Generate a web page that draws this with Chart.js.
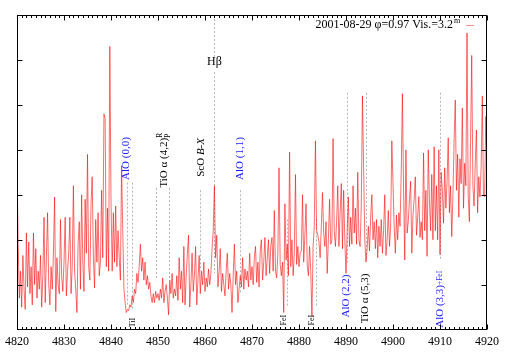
<!DOCTYPE html>
<html>
<head>
<meta charset="utf-8">
<script src="https://cdn.jsdelivr.net/npm/chart.js@4.4.0/dist/chart.umd.min.js"></script>
<style>
  html, body { margin: 0; padding: 0; background: #fff; }
  canvas { display: block; }
</style>
</head>
<body>
<canvas id="myChart" width="509" height="356"></canvas>
<script>
// spectrum sampled every 0.25 A from 4820 to 4920
const lambdaStart = 4820;
const lambdaStep = 0.25;
const flux = [
  3.6, 1.9, 0.7, 1.3, 0.5, 1.65, 0.9, 0.45, 2.15, 0.95, 1.95, 0.8, 1.4, 0.55, 2.15, 1.0, 1.8, 0.7, 1.3, 0.9,
  1.65, 0.5, 1.2, 2.5, 0.6, 1.6, 2.6, 1.0, 0.55, 1.4, 0.9, 1.7, 2.95, 0.4, 1.6, 1.0, 0.8, 2.45, 1.2, 0.85,
  1.5, 2.5, 0.75, 1.3, 1.7, 2.5, 0.8, 1.4, 3.2, 1.3, 0.9, 0.38, 1.9, 2.4, 0.9, 3.0, 1.5, 0.85, 2.9, 1.7,
  3.9, 1.4, 1.1, 2.8, 3.4, 1.6, 0.93, 2.45, 1.5, 2.6, 1.2, 1.5, 3.1, 1.6, 4.8, 4.7, 1.4, 2.7, 1.3, 6.3,
  2.9, 1.3, 2.6, 1.5, 2.75, 1.4, 2.2, 1.6, 1.1, 3.65, 2.2, 0.9, 0.6, 0.38, 0.45, 0.42, 0.55, 0.5, 0.75, 0.6,
  0.9, 0.8, 1.25, 1.05, 1.4, 1.9, 1.3, 1.6, 1.1, 1.5, 1.0, 1.2, 0.9, 1.05, 0.75, 0.6, 0.8, 0.6, 0.85, 0.7,
  0.8, 0.65, 0.9, 0.7, 1.15, 0.6, 0.85, 1.0, 0.7, 0.33, 1.1, 0.8, 1.25, 0.7, 0.9, 0.75, 1.2, 0.65, 1.6, 0.9,
  1.3, 0.6, 1.85, 0.55, 1.2, 1.7, 2.1, 0.5, 1.0, 1.7, 0.85, 1.2, 1.85, 0.55, 1.1, 1.65, 0.8, 1.3, 1.0, 1.5,
  0.85, 1.15, 0.95, 1.35, 1.0, 1.25, 1.8, 2.2, 3.2, 1.6, 2.1, 0.95, 1.3, 1.8, 0.85, 1.25, 1.0, 0.75, 1.3, 1.7,
  0.9, 1.25, 1.0, 0.38, 1.2, 1.9, 1.0, 1.3, 0.6, 0.9, 1.2, 0.95, 1.6, 0.9, 1.35, 1.1, 1.3, 0.95, 1.7, 1.1,
  1.4, 1.0, 1.6, 1.85, 1.05, 1.5, 0.95, 1.75, 2.0, 1.1, 1.5, 2.05, 1.2, 1.6, 2.0, 1.25, 1.85, 2.05, 1.3, 2.65,
  1.3, 1.15, 1.7, 3.6, 1.45, 1.2, 1.5, 0.38, 2.8, 1.55, 1.9, 1.2, 3.95, 1.4, 2.0, 1.2, 1.7, 3.45, 1.45, 1.85,
  1.4, 1.7, 1.75, 3.0, 1.5, 2.1, 2.8, 1.45, 1.2, 1.85, 1.3, 0.3, 1.85, 2.3, 4.2, 2.2, 2.1, 1.95, 1.6, 2.3,
  3.05, 2.15, 1.85, 2.4, 1.25, 2.0, 2.9, 1.9, 2.0, 4.25, 2.2, 1.85, 2.4, 3.2, 1.85, 2.6, 3.25, 1.8, 3.1, 2.0,
  1.25, 2.2, 2.95, 1.85, 2.5, 1.9, 3.2, 2.15, 2.7, 1.9, 3.5, 2.0, 1.85, 2.75, 5.2, 3.6, 2.0, 1.5, 1.8, 2.3,
  1.75, 2.5, 3.0, 2.0, 2.4, 1.8, 2.45, 1.6, 2.3, 1.85, 2.45, 1.7, 2.2, 3.0, 1.65, 2.0, 2.65, 1.85, 2.3, 4.2,
  3.25, 2.3, 1.7, 2.55, 2.0, 2.6, 2.3, 3.5, 5.25, 3.1, 1.55, 4.0, 2.15, 2.4, 2.9, 3.3, 1.7, 2.55, 2.9, 3.4,
  2.1, 2.5, 2.96, 2.05, 2.4, 2.0, 3.93, 2.2, 3.1, 1.63, 4.0, 2.9, 2.2, 3.45, 2.0, 4.07, 2.2, 3.2, 2.0, 4.0,
  1.67, 3.5, 3.1, 2.37, 3.6, 2.7, 3.3, 4.27, 2.6, 3.2, 2.07, 3.0, 4.2, 5.11, 3.1, 3.9, 2.5, 3.8, 3.25, 4.93,
  2.7, 3.7, 3.2, 6.6, 3.0, 2.4, 4.2, 6.1, 3.2, 2.75, 3.7, 4.44, 2.6, 3.4, 2.95, 3.6, 5.2, 3.0, 2.96, 4.74,
  3.4
];

const xMin = 4820, xMax = 4920, xMajor = 10, xMinor = 1;
const yMin = 0, yMax = 7;
const yTicks = [1, 2, 3, 4, 5, 6];

// identified features: wavelength and vertical extent of the marker
const markerLines = [
  { lambda: 4843.4, from: 0.55, to: 3.27 },
  { lambda: 4844.4, from: 0.45, to: 3.27 },
  { lambda: 4849.5, from: 1.1, to: 3.15 },
  { lambda: 4852.3, from: 1.1, to: 3.15 },
  { lambda: 4859.0, from: 1.3, to: 3.1 },
  { lambda: 4862.0, from: 1.26, to: 5.73 },
  { lambda: 4862.0, from: 6.07, to: 7.0 },
  { lambda: 4867.5, from: 0.82, to: 3.1 },
  { lambda: 4877.4, from: 0.5, to: 2.45 },
  { lambda: 4883.7, from: 0.5, to: 2.45 },
  { lambda: 4890.2, from: 1.5, to: 5.27 },
  { lambda: 4894.3, from: 1.55, to: 5.27 },
  { lambda: 4910.1, from: 1.55, to: 5.27 }
];

const blue = '#1a1aff';
const black = '#000';
const markerLabels = [
  { lambda: 4843.3, at: 3.33, color: blue, parts: [{ text: 'AlO (0,0)' }] },
  { lambda: 4844.6, at: 0.05, color: black, parts: [{ text: 'TiI', size: 8 }] },
  { lambda: 4851.3, at: 3.16, color: black, parts: [{ text: 'TiO α (4,2)' }, { text: 'R', size: 8, dy: -4, hold: true }, { text: 'P', size: 8, dy: 4 }] },
  { lambda: 4859.1, at: 3.4, color: black, parts: [{ text: 'ScO ' }, { text: 'B-X', italic: true }] },
  { lambda: 4867.4, at: 3.33, color: blue, parts: [{ text: 'AlO (1,1)' }] },
  { lambda: 4876.7, at: 0.09, color: black, parts: [{ text: 'FeI', size: 8 }] },
  { lambda: 4882.8, at: 0.09, color: black, parts: [{ text: 'FeI', size: 8 }] },
  { lambda: 4890.0, at: 0.27, color: blue, parts: [{ text: 'AlO (2,2)' }] },
  { lambda: 4894.0, at: 0.14, color: black, parts: [{ text: 'TiO α (5,3)' }] },
  { lambda: 4910.1, at: 0.04, color: blue, parts: [{ text: 'AlO (3,3)' }, { text: '+FeI', size: 7.5 }] }
];
const hbetaLabel = { lambda: 4862.0, at: 5.96, text: 'Hβ' };

const keyTitle = '2001-08-29 φ=0.97 Vis.=3.2';
const keySup = 'm';

const serif = '"Liberation Serif", "Times New Roman", serif';
const lineColor = 'rgba(255,0,0,0.58)';

const featurePlugin = {
  id: 'features',
  beforeDatasetsDraw(chart) {
    const { ctx, scales: { x, y } } = chart;
    ctx.save();
    ctx.strokeStyle = '#b4b4b4';
    ctx.lineWidth = 1;
    ctx.setLineDash([2, 2]);
    markerLines.forEach(m => {
      const px = Math.round(x.getPixelForValue(m.lambda)) + 0.5;
      ctx.beginPath();
      ctx.moveTo(px, y.getPixelForValue(m.to));
      ctx.lineTo(px, y.getPixelForValue(m.from));
      ctx.stroke();
    });
    ctx.restore();
  },
  afterDatasetsDraw(chart) {
    const { ctx, chartArea: a, scales: { x, y } } = chart;
    ctx.save();

    // rotated feature labels
    markerLabels.forEach(l => {
      ctx.save();
      ctx.translate(x.getPixelForValue(l.lambda), y.getPixelForValue(l.at));
      ctx.rotate(-Math.PI / 2);
      ctx.fillStyle = l.color;
      ctx.textBaseline = 'middle';
      ctx.textAlign = 'left';
      let off = 0;
      l.parts.forEach(p => {
        ctx.font = (p.italic ? 'italic ' : '') + (p.size || 11) + 'px ' + serif;
        ctx.fillText(p.text, off, p.dy || 0);
        if (!p.hold) off += ctx.measureText(p.text).width;
      });
      ctx.restore();
    });

    ctx.fillStyle = '#000';
    ctx.font = '12px ' + serif;
    ctx.textAlign = 'center';
    ctx.textBaseline = 'middle';
    ctx.fillText(hbetaLabel.text, x.getPixelForValue(hbetaLabel.lambda), y.getPixelForValue(hbetaLabel.at));

    // key
    const kx = a.right - 34, ky = a.top + 10;
    ctx.textAlign = 'right';
    ctx.fillText(keyTitle, kx, ky);
    ctx.font = '8px ' + serif;
    ctx.textAlign = 'left';
    ctx.fillText(keySup, kx + 1, ky - 4);
    ctx.strokeStyle = 'rgba(255,0,0,0.45)';
    ctx.lineWidth = 1;
    ctx.beginPath();
    ctx.moveTo(kx + 13, ky + 0.5);
    ctx.lineTo(kx + 21, ky + 0.5);
    ctx.stroke();

    // frame and inward ticks
    const L = Math.round(a.left) + 0.5, R = Math.round(a.right) - 0.5;
    const T = Math.round(a.top) + 0.5, B = Math.round(a.bottom) - 0.5;
    ctx.strokeStyle = '#000';
    ctx.beginPath();
    for (let v = xMin; v <= xMax; v += xMinor) {
      const px = Math.round(x.getPixelForValue(v)) + 0.5;
      const len = (v - xMin) % xMajor === 0 ? 5 : 2.5;
      ctx.moveTo(px, B); ctx.lineTo(px, B - len);
      ctx.moveTo(px, T); ctx.lineTo(px, T + len);
    }
    yTicks.forEach(v => {
      const py = Math.round(y.getPixelForValue(v)) + 0.5;
      ctx.moveTo(L, py); ctx.lineTo(L + 5, py);
      ctx.moveTo(R, py); ctx.lineTo(R - 5, py);
    });
    ctx.stroke();
    ctx.strokeRect(L, T, R - L, B - T);
    ctx.restore();
  }
};

const ctx = document.querySelector('#myChart').getContext('2d');
const chart = new Chart(ctx, {
  type: 'line',
  data: {
    datasets: [{
      data: flux.map((v, i) => ({ x: lambdaStart + i * lambdaStep, y: v })),
      borderColor: lineColor,
      borderWidth: 1,
      pointRadius: 0,
      tension: 0,
      fill: false
    }]
  },
  options: {
    responsive: false,
    animation: false,
    devicePixelRatio: 1,
    layout: { padding: { left: 14, right: 22, top: 15, bottom: 2 } },
    plugins: { legend: { display: false }, tooltip: { enabled: false } },
    scales: {
      x: {
        type: 'linear',
        min: xMin,
        max: xMax,
        grid: { display: false, drawTicks: false },
        border: { display: false },
        ticks: {
          stepSize: xMajor,
          autoSkip: false,
          maxRotation: 0,
          padding: 5,
          color: '#000',
          font: { family: serif, size: 12 },
          callback: v => String(v)
        }
      },
      y: { display: false, min: yMin, max: yMax }
    }
  },
  plugins: [featurePlugin]
});
</script>
</body>
</html>
